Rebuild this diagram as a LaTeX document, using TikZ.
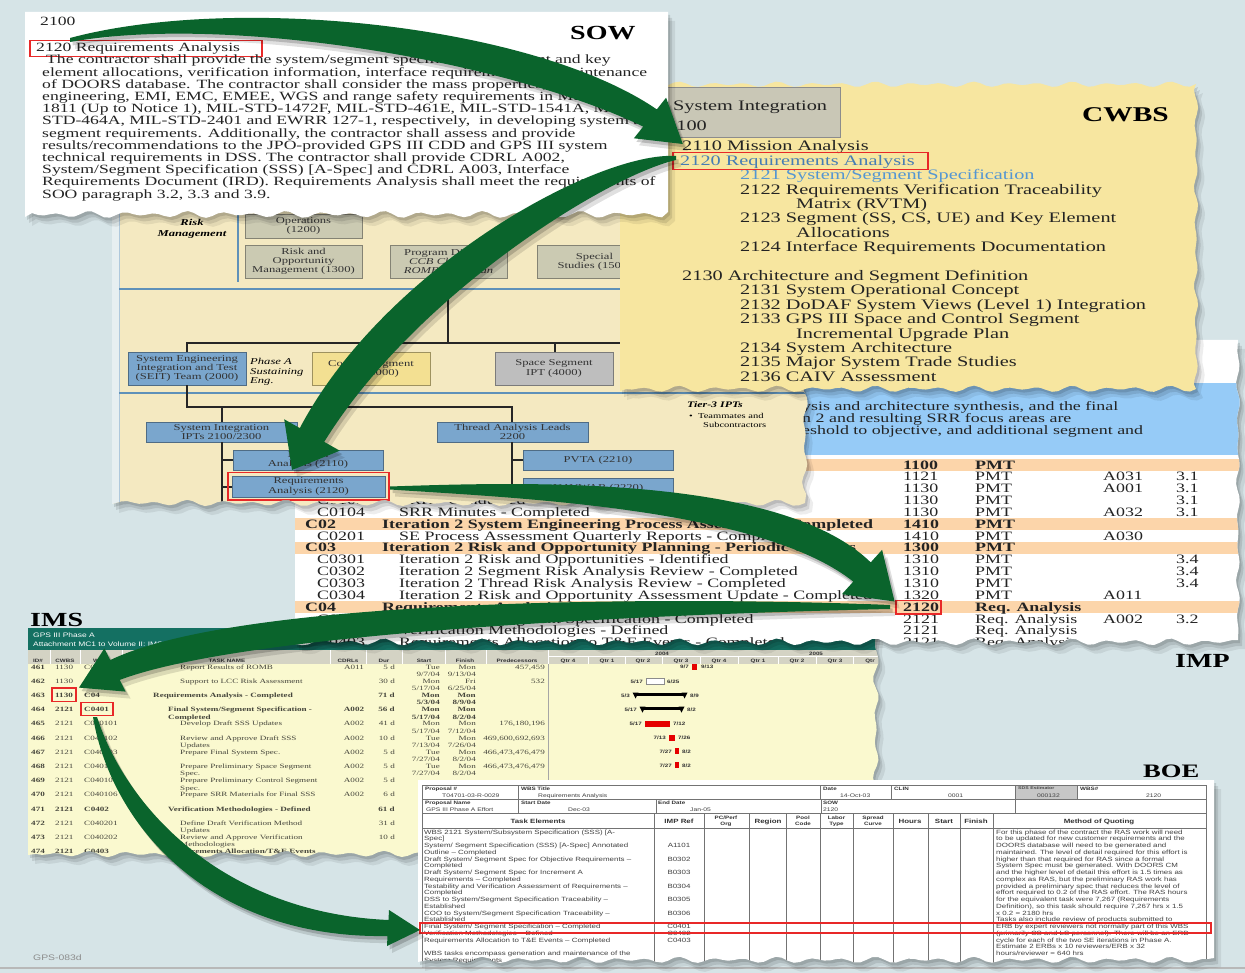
\documentclass[tikz,border=0pt]{standalone}
\usepackage{fontspec}
\setmainfont{Liberation Serif}[FakeStretch=1.4]
\newfontfamily\tinysans{Liberation Sans}[FakeStretch=1.3]
\usetikzlibrary{shadows}

\definecolor{bgblue}{RGB}{214,228,231}
\definecolor{arrowgreen}{RGB}{10,100,44}
\definecolor{orgbeige}{RGB}{244,233,193}
\definecolor{cwbsyellow}{RGB}{247,230,160}
\definecolor{impblue}{RGB}{150,203,247}
\definecolor{imporange}{RGB}{252,213,170}
\definecolor{imsyellow}{RGB}{250,249,207}
\definecolor{imsteal}{RGB}{20,112,98}
\definecolor{imshead}{RGB}{212,211,196}
\definecolor{boxblue}{RGB}{122,166,205}
\definecolor{boxtan}{RGB}{203,202,178}
\definecolor{boxgrey}{RGB}{190,190,190}
\definecolor{boxyellow}{RGB}{243,224,146}
\definecolor{orgline}{RGB}{95,145,185}
\definecolor{wbsblue}{RGB}{70,125,180}
\definecolor{wbslight}{RGB}{85,150,210}
\definecolor{markred}{RGB}{232,40,40}
\definecolor{sysgrey}{RGB}{201,199,182}
\definecolor{inkgrey}{RGB}{35,35,35}
\definecolor{tinyink}{RGB}{70,70,60}

\tikzset{
  txt/.style={inner sep=0pt,anchor=base west},
  txtr/.style={inner sep=0pt,anchor=base east},
  txtc/.style={inner sep=0pt,anchor=base},
  redmark/.style={draw=markred,line width=1.3pt},
  orgbox/.style={draw=#1!65!black,fill=#1,line width=0.5pt,inner sep=0pt,align=center,
    font=\fontsize{9}{9.2}\selectfont,text=black!80,
    drop shadow={shadow xshift=1.3pt,shadow yshift=-1.3pt,opacity=.35}},
  orgrule/.style={draw=orgline,line width=1.6pt},
  orgwire/.style={draw=black!85,line width=1.2pt},
  sowfont/.style={font=\fontsize{12.6}{12}\selectfont,text=inkgrey},
  wbsfont/.style={font=\fontsize{14.5}{14}\selectfont,text=inkgrey},
  impfont/.style={font=\fontsize{12.8}{12}\selectfont,text=inkgrey},
  imsfont/.style={font=\fontsize{6.5}{6.5}\selectfont,text=tinyink},
  boefont/.style={font=\tinysans\fontsize{6.1}{6.1}\selectfont,text=black!75},
  boebold/.style={font=\tinysans\bfseries\fontsize{6.1}{6.1}\selectfont,text=black!80},
  boecell/.style={font=\tinysans\bfseries\fontsize{4.8}{4.8}\selectfont,text=black!80},
  boeval/.style={font=\tinysans\fontsize{5.2}{5.2}\selectfont,text=black!75},
  gantt/.style={font=\tinysans\bfseries\fontsize{4.8}{4.8}\selectfont,text=black!80},
  boegrid/.style={draw=black!55,line width=0.55pt},
  arrowfill/.style={fill=arrowgreen},
}

% torn-paper outlines of the five documents
\newcommand\sowshape[1]{\path[#1] (25,12) -- (668,12) -- (668,212)
  \foreach \x in {662,656,...,30} {-- (\x,{214.5+2.2*sin(11*\x)+1.4*sin(7.3*\x)})}
  -- (25,217) -- cycle;}
\newcommand\cwbsshape[1]{\path[#1] (620,86)
  \foreach \x in {626,632,...,1190} {-- (\x,{84.5+1.8*sin(11*\x)+1.1*sin(7.3*\x)})}
  -- (1196,84)
  \foreach \y in {90,96,...,384} {-- ({1196+1.4*sin(11*\y)+0.8*sin(7.3*\y)},\y)}
  -- (1196,389)
  \foreach \x in {1190,1184,...,626} {-- (\x,{389+2*sin(11*\x)+1.4*sin(7.3*\x)})}
  -- (620,391) -- cycle;}
\newcommand\orgshape[1]{\path[#1] (112,200) -- (805,200)
  \foreach \y in {206,212,...,498} {-- ({805+1.8*sin(11*\y)+1.2*sin(7.3*\y)},\y)}
  -- (805,503)
  \foreach \x in {799,793,...,118} {-- (\x,{503+2*sin(11*\x)+1.3*sin(7.3*\x)})}
  -- (112,504) -- cycle;}
\newcommand\impshape[1]{\path[#1] (295,340) -- (1238,340)
  \foreach \y in {346,352,...,636} {-- ({1238+1.2*sin(11*\y)+0.8*sin(7.3*\y)},\y)}
  -- (1238,640)
  \foreach \x in {1232,1226,...,300} {-- (\x,{642+2.2*sin(11*\x)+1.4*sin(7.3*\x)})}
  -- (295,644) -- cycle;}
\newcommand\imsshape[1]{\path[#1] (28,628) -- (876,628)
  \foreach \y in {634,640,...,850} {-- ({876+1.8*sin(11*\y)+1.2*sin(7.3*\y)},\y)}
  -- (876,854)
  \foreach \x in {870,864,...,34} {-- (\x,{854+2*sin(11*\x)+1.3*sin(7.3*\x)})}
  -- (28,855) -- cycle;}
\newcommand\boeshape[1]{\path[#1] (418,780) -- (1214,780) -- (1214,958)
  \foreach \x in {1208,1202,...,424} {-- (\x,{960+2*sin(11*\x)+1.3*sin(7.3*\x)})}
  -- (418,962) -- cycle;}
\newcommand\docshadow[1]{%
  #1{fill=black,opacity=.07,shift={(7,9)}}%
  #1{fill=black,opacity=.10,shift={(4,6)}}%
  #1{fill=black,opacity=.12,shift={(2,3)}}}

% tapered green arrows
\newcommand\arrowsow[1]{\path[#1] (70,38) .. controls (234,-6) and (532,24) .. (656.8,109.4)
  -- (666.1,97.7) -- (cwbsmark) -- (633.9,138.3) -- (643.2,126.6)
  .. controls (505,60) and (226,14) .. (70,42) -- cycle;}
\newcommand\arrowcwbs[1]{\path[#1] (676,156) .. controls (598,151) and (385,267) .. (299.8,428.1)
  -- (284.2,419.3) -- (orgmark) -- (339.8,450.7) -- (324.2,441.9)
  .. controls (415,295) and (606,176) .. (676,160) -- cycle;}
\newcommand\arroworg[1]{\path[#1] (390,486.5) .. controls (522,482) and (780,474) .. (870.7,562.4)
  -- (882.1,549.8) -- (impmark) -- (841.9,594.2) -- (853.3,581.6)
  .. controls (760,508) and (518,498) .. (390,489.5) -- cycle;}
\newcommand\arrowimp[1]{\path[#1] (890,605) .. controls (700,597) and (245,595) .. (110.2,660.1)
  -- (104.4,648.4) -- (imsmark) -- (125.6,691.6) -- (119.8,679.9)
  .. controls (255,629) and (700,613) .. (890,609) -- cycle;}
\newcommand\arrowims[1]{\path[#1] (93,717) .. controls (112,828) and (212,939) .. (387.5,936)
  -- (387,946) -- (boemark) -- (389,910) -- (388.5,920)
  .. controls (227,913) and (128,812) .. (97,717) -- cycle;}

% one schedule row, left and right halves
\def\imsfw{}
\newcommand\imsrowA[7]{%
  \pgfmathsetmacro\imsya{669+14.2*#1}%
  \pgfmathsetmacro\imsyb{\imsya+7.4}%
  \node[txt,imsfont] (imsid#1) at (31,\imsya) {\bfseries #2};
  \node[txt,imsfont] (imscw#1) at (55,\imsya) {\imsfw #3};
  \node[txt,imsfont] (imswp#1) at (84,\imsya) {\imsfw #4};
  \node[txt,imsfont] (imstka#1) at (#5,\imsya) {\imsfw #6};
  \node[txt,imsfont] (imstkb#1) at (#5,\imsyb) {\imsfw #7};}
\newcommand\imsrowB[8]{%
  \pgfmathsetmacro\imsya{669+14.2*#1}%
  \pgfmathsetmacro\imsyb{\imsya+7.4}%
  \node[txtc,imsfont] (imscd#1) at (354,\imsya) {\imsfw #2};
  \node[txtr,imsfont] (imsdu#1) at (395,\imsya) {\imsfw #3};
  \node[txtr,imsfont] (imssa#1) at (440,\imsya) {\imsfw #4};
  \node[txtr,imsfont] (imssb#1) at (440,\imsyb) {\imsfw #5};
  \node[txtr,imsfont] (imsfa#1) at (476,\imsya) {\imsfw #6};
  \node[txtr,imsfont] (imsfb#1) at (476,\imsyb) {\imsfw #7};
  \node[txtr,imsfont] (imspr#1) at (545,\imsya) {#8};}
% rows whose right half lies under the estimate sheet
\newcommand\imsrowC[3]{%
  \pgfmathsetmacro\imsya{669+14.2*#1}%
  \node[txtc,imsfont] (imscd#1) at (354,\imsya) {\imsfw #2};
  \node[txtr,imsfont] (imsdu#1) at (395,\imsya) {\imsfw #3};}

\begin{document}
\begin{tikzpicture}[x=1pt,y=-1pt]
\useasboundingbox (0,0) rectangle (1245,973);
\fill[bgblue] (0,0) rectangle (1245,973);
\draw[black!28,line width=1.6pt] (0,968) -- (1245,968);
\node[txt,font=\tinysans\fontsize{8}{8}\selectfont,text=black!45] (drawno) at (33,960) {GPS-083d};

% ---------------- IMS ----------------
\docshadow\imsshape
\imsshape{fill=imsyellow}
\begin{scope}
\imsshape{clip}
\fill[imsteal] (28,628) rectangle (880,650);
\node[txt,font=\tinysans\fontsize{6.5}{6.5}\selectfont,text=white] (imsbar1) at (33,637) {GPS III Phase A};
\node[txt,font=\tinysans\fontsize{6.5}{6.5}\selectfont,text=white] (imsbar2) at (33,646.5) {Attachment MC1 to Volume II:  IMS};
\fill[imshead] (28,650) rectangle (880,664);
\foreach \xx in {50,80,122,330,366,402,445,486,548} \draw[white,line width=0.6pt] (\xx,650) -- (\xx,664);
\draw[white,line width=0.6pt] (548,656.5) -- (880,656.5);
\foreach \xx in {588,625,662,700,738,778,816,853} \draw[white,line width=0.6pt] (\xx,656.5) -- (\xx,664);
\node[txtc,gantt] (yr2004) at (662,655) {2004};
\node[txtc,gantt] (yr2005) at (816,655) {2005};
\foreach \xx/\t [count=\i] in {38/ID\#,65/CWBS,100/WP\#,227/TASK NAME,348/CDRLs,384/Dur,424/Start,465/Finish,517/Predecessors,568/Qtr 4,607/Qtr 1,643/Qtr 2,681/Qtr 3,719/Qtr 4,758/Qtr 1,797/Qtr 2,835/Qtr 3,870/Qtr}
  \node[txtc,gantt] (imscol\i) at (\xx,662.5) {\t};
\draw[black!35,line width=0.6pt] (548,664) -- (548,858);

\imsrowA{0}{461}{1130}{C0105}{180}{Report Results of ROMB}{}
\imsrowB{0}{A011}{5 d}{Tue}{9/7/04}{Mon}{9/13/04}{457,459}
\imsrowA{1}{462}{1130}{}{180}{Support to LCC Risk Assessment}{}
\imsrowB{1}{}{30 d}{Mon}{5/17/04}{Fri}{6/25/04}{532}
\def\imsfw{\bfseries}
\imsrowA{2}{463}{1130}{C04}{153}{Requirements Analysis - Completed}{}
\imsrowB{2}{}{71 d}{Mon}{5/3/04}{Mon}{8/9/04}{}
\imsrowA{3}{464}{2121}{C0401}{168}{Final System/Segment Specification -}{Completed}
\imsrowB{3}{A002}{56 d}{Mon}{5/17/04}{Mon}{8/2/04}{}
\def\imsfw{}
\imsrowA{4}{465}{2121}{C040101}{180}{Develop Draft SSS Updates}{}
\imsrowB{4}{A002}{41 d}{Mon}{5/17/04}{Mon}{7/12/04}{176,180,196}
\imsrowA{5}{466}{2121}{C040102}{180}{Review and Approve Draft SSS}{Updates}
\imsrowB{5}{A002}{10 d}{Tue}{7/13/04}{Mon}{7/26/04}{469,600,692,693}
\imsrowA{6}{467}{2121}{C040103}{180}{Prepare Final System Spec.}{}
\imsrowB{6}{A002}{5 d}{Tue}{7/27/04}{Mon}{8/2/04}{466,473,476,479}
\imsrowA{7}{468}{2121}{C040104}{180}{Prepare Preliminary Space Segment}{Spec.}
\imsrowB{7}{A002}{5 d}{Tue}{7/27/04}{Mon}{8/2/04}{466,473,476,479}
\imsrowA{8}{469}{2121}{C040105}{180}{Prepare Preliminary Control Segment}{Spec.}
\imsrowC{8}{A002}{5 d}
\imsrowA{9}{470}{2121}{C040106}{180}{Prepare SRR Materials for Final SSS}{}
\imsrowC{9}{A002}{6 d}
\def\imsfw{\bfseries}
\imsrowA{10}{471}{2121}{C0402}{168}{Verification Methodologies - Defined}{}
\imsrowC{10}{}{61 d}
\def\imsfw{}
\imsrowA{11}{472}{2121}{C040201}{180}{Define Draft Verification Method}{Updates}
\imsrowC{11}{}{31 d}
\imsrowA{12}{473}{2121}{C040202}{180}{Review and Approve Verification}{Methodologies}
\imsrowC{12}{}{10 d}
\def\imsfw{\bfseries}
\imsrowA{13}{474}{2121}{C0403}{168}{Requirements Allocation/T\&E Events}{}
\def\imsfw{}

% Gantt bars
\fill[red!90!black] (692,664) rectangle (697,669.5);
\node[txtr,gantt] (g0a) at (689,668.5) {9/7};
\node[txt,gantt] (g0b) at (701,668.5) {9/13};
\draw[black!45,fill=white,line width=0.5pt] (646,678.5) rectangle (664,684);
\node[txtr,gantt] (g1a) at (643,683) {5/17};
\node[txt,gantt] (g1b) at (667,683) {6/25};
\fill[black] (635,692.5) rectangle (685,695.5);
\fill[black] (632.5,692.5) -- (638.5,692.5) -- (635.5,698.5) -- cycle;
\fill[black] (681.5,692.5) -- (687.5,692.5) -- (684.5,698.5) -- cycle;
\node[txtr,gantt] (g2a) at (630,697) {5/3};
\node[txt,gantt] (g2b) at (690,697) {8/9};
\fill[black] (642,706.7) rectangle (682,709.7);
\fill[black] (639.5,706.7) -- (645.5,706.7) -- (642.5,712.7) -- cycle;
\fill[black] (678.5,706.7) -- (684.5,706.7) -- (681.5,712.7) -- cycle;
\node[txtr,gantt] (g3a) at (637,711) {5/17};
\node[txt,gantt] (g3b) at (687,711) {8/2};
\fill[red!90!black] (645,720.5) rectangle (670,726.5);
\node[txtr,gantt] (g4a) at (642,725.5) {5/17};
\node[txt,gantt] (g4b) at (673,725.5) {7/12};
\fill[red!90!black] (669,734.5) rectangle (675,740.5);
\node[txtr,gantt] (g5a) at (666,739.5) {7/13};
\node[txt,gantt] (g5b) at (678,739.5) {7/26};
\foreach \k in {6,7} {
  \pgfmathsetmacro\gy{666+14.2*\k}
  \fill[red!90!black] (675,\gy-3) rectangle (678.5,\gy+3);
  \node[txtr,gantt] (g\k a) at (672,\gy+2) {7/27};
  \node[txt,gantt] (g\k b) at (682,\gy+2) {8/2};
}
\draw[redmark] (52,688) rectangle (76,701.5);
\draw[redmark] (81,702.5) rectangle (113,715.5);
\end{scope}

% ---------------- IMP ----------------
\docshadow\impshape
\impshape{fill=white}
\begin{scope}
\impshape{clip}
\fill[impblue] (295,383) rectangle (1242,455);
\node[txt,impfont] (impblue1) at (802,410) {ysis and architecture synthesis, and the final};
\node[txt,impfont] (impblue2) at (802,422.5) {n 2 and resulting SRR focus areas are};
\node[txt,impfont] (impblue3) at (802,435) {eshold to objective, and additional segment and};
\foreach \j in {0,5,7,12} \fill[imporange] (295,{459+11.85*\j}) rectangle (1242,{471+11.85*\j});
\foreach \j/\cx/\cd/\tx/\tk/\wbs/\org/\cdrl/\para/\fw in {
  0/305/{}/382/{}/1100/PMT/{}/{}/\bfseries,
  1/317/{}/399/{}/1121/PMT/A031/3.1/\mdseries,
  2/317/{}/399/{}/1130/PMT/A001/3.1/\mdseries,
  3/317/C0103/399/{SRR - Conducted}/1130/PMT/{}/3.1/\mdseries,
  4/317/C0104/399/{SRR Minutes - Completed}/1130/PMT/A032/3.1/\mdseries,
  5/305/C02/382/{Iteration 2 System Engineering Process Assessment - Completed}/1410/PMT/{}/{}/\bfseries,
  6/317/C0201/399/{SE Process Assessment Quarterly Reports - Completed}/1410/PMT/A030/{}/\mdseries,
  7/305/C03/382/{Iteration 2 Risk and Opportunity Planning - Periodic Updates}/1300/PMT/{}/{}/\bfseries,
  8/317/C0301/399/{Iteration 2 Risk and Opportunities - Identified}/1310/PMT/{}/3.4/\mdseries,
  9/317/C0302/399/{Iteration 2 Segment Risk Analysis Review - Completed}/1310/PMT/{}/3.4/\mdseries,
  10/317/C0303/399/{Iteration 2 Thread Risk Analysis Review - Completed}/1310/PMT/{}/3.4/\mdseries,
  11/317/C0304/399/{Iteration 2 Risk and Opportunity Assessment Update - Completed}/1320/PMT/A011/{}/\mdseries,
  12/305/C04/382/{Requirements Analysis - Completed}/2120/{Req. Analysis}/{}/{}/\bfseries,
  13/317/C0401/399/{Final System/Segment Specification - Completed}/2121/{Req. Analysis}/A002/3.2/\mdseries,
  14/317/C0402/399/{Verification Methodologies - Defined}/2121/{Req. Analysis}/{}/{}/\mdseries,
  15/317/C0403/399/{Requirements Allocation to T\&E Events - Completed}/2121/{Req. Analysis}/{}/{}/\mdseries}
{
  \pgfmathsetmacro\yy{469+11.85*\j}
  \node[txt,impfont] (impc\j) at (\cx,\yy) {\fw\cd};
  \begin{scope}
    \clip (295,440) rectangle (893,660);
    \node[txt,impfont] (impt\j) at (\tx,\yy) {\fw\tk};
  \end{scope}
  \node[txt,impfont] (impw\j) at (903,\yy) {\fw\wbs};
  \node[txt,impfont] (impo\j) at (975,\yy) {\fw\org};
  \node[txt,impfont] (impd\j) at (1103,\yy) {\cdrl};
  \node[txt,impfont] (impp\j) at (1176,\yy) {\para};
}
\draw[redmark] (896,600.5) rectangle (941,614);
\end{scope}

% ---------------- organisation chart ----------------
\docshadow\orgshape
\orgshape{fill=orgbeige}
\begin{scope}
\orgshape{clip}
\fill[bgblue!60!white] (112,200) rectangle (119,506);
\draw[orgline!50,line width=0.8pt] (119,200) -- (119,506);
\node[txtc,font=\bfseries\itshape\fontsize{9}{9}\selectfont] (riskhead) at (192,226) {Risk};
\node[txtc,font=\bfseries\itshape\fontsize{9}{9}\selectfont] (riskmgmt) at (192,237) {Management};
\draw[orgrule] (238,200) -- (238,282);
\node[orgbox=boxtan,minimum width=117pt,minimum height=24pt] (ops) at (303.5,226) {Operations\\(1200)};
\node[orgbox=boxtan,minimum width=117pt,minimum height=33pt] (rom) at (303.5,261.5) {Risk and\\Opportunity\\Management (1300)};
\node[orgbox=boxtan,minimum width=117pt,minimum height=33pt] (pd) at (448.5,261.5) {Program Director\\\textit{CCB Chairman}\\\textit{ROMB Chairman}};
\node[orgbox=boxtan,minimum width=115pt,minimum height=33pt] (ss) at (594.5,261.5) {Special\\Studies (1500)};
\draw[orgrule] (119,289) -- (805,289);
\draw[orgwire] (448,283) -- (448,343);
\draw[orgwire] (187,352) -- (187,343) -- (660,343);
\draw[orgwire] (555,343) -- (555,352);
\node[orgbox=boxblue,minimum width=118pt,minimum height=33pt] (seit) at (187,368.5) {System Engineering\\Integration and Test\\(SEIT) Team (2000)};
\node[txt,font=\itshape\fontsize{9}{9}\selectfont] (phasea) at (250,365) {Phase A};
\node[txt,font=\itshape\fontsize{9}{9}\selectfont] (sustain) at (250,374.5) {Sustaining};
\node[txt,font=\itshape\fontsize{9}{9}\selectfont] (eng) at (250,384) {Eng.};
\node[orgbox=boxyellow,minimum width=118pt,minimum height=33pt] (cs) at (371,368.5) {Control Segment\\IPT (3000)};
\node[orgbox=boxgrey,minimum width=118pt,minimum height=33pt] (sp) at (554,368.5) {Space Segment\\IPT (4000)};
\draw[orgrule] (119,393) -- (805,393);
\draw[orgwire] (seit.south) -- (187,407) -- (512,407) -- (512,422);
\draw[orgwire] (222,407) -- (222,422);
\node[orgbox=boxblue,minimum width=151pt,minimum height=20pt] (si) at (221.5,432) {System Integration\\IPTs 2100/2300};
\node[orgbox=boxblue,minimum width=151pt,minimum height=20pt] (ta) at (512.5,432) {Thread Analysis Leads\\2200};
\draw[orgwire] (222,442) -- (222,506);
\draw[orgwire] (222,460) -- (233,460);
\draw[orgwire] (222,487) -- (232,487);
\draw[orgwire] (512,442) -- (512,495);
\draw[orgwire] (512,460) -- (523,460);
\draw[orgwire] (512,488) -- (523,488);
\node[orgbox=boxblue,minimum width=150pt,minimum height=20pt] (ma) at (308,460) {Mission\\Analysis (2110)};
\node[orgbox=boxblue,minimum width=153pt,minimum height=21pt] (ra) at (308.5,486.5) {Requirements\\Analysis (2120)};
\node[orgbox=boxblue,minimum width=150pt,minimum height=20pt] (pv) at (598,460) {PVTA (2210)};
\node[orgbox=boxblue,minimum width=150pt,minimum height=20pt] (nw) at (598,488) {NAVWAR (2220)};
\draw[redmark] (228,472.5) rectangle (389,500);
\node[txt,font=\bfseries\itshape\fontsize{8.5}{8.5}\selectfont] (tier3) at (687,408) {Tier-3 IPTs};
\node[txt,font=\fontsize{7.5}{7.5}\selectfont] (tier3a) at (689,418) {•\ \ Teammates and};
\node[txt,font=\fontsize{7.5}{7.5}\selectfont] (tier3b) at (703,428) {Subcontractors};
\end{scope}

% ---------------- CWBS ----------------
\docshadow\cwbsshape
\cwbsshape{fill=cwbsyellow}
\draw[fill=sysgrey,draw=black!45,line width=0.8pt] (655,87) rectangle (840,137);
\node[txt,wbsfont] (sysint) at (673,111) {System Integration};
\node[txt,wbsfont] (cw2100) at (666,131) {2100};
\node[txt,font=\bfseries\fontsize{21}{21}\selectfont] (cwbstitle) at (1082,122) {CWBS};
\foreach \xx/\yy/\t/\c [count=\i] in {
  682/151/{2110 Mission Analysis}/inkgrey,
  680/165.4/{2120 Requirements Analysis}/wbsblue,
  740/179.8/{2121 System/Segment Specification}/wbslight,
  740/194.2/{2122 Requirements Verification Traceability}/inkgrey,
  796/208.6/{Matrix (RVTM)}/inkgrey,
  740/223/{2123 Segment (SS, CS, UE) and Key Element}/inkgrey,
  796/237.4/{Allocations}/inkgrey,
  740/251.8/{2124 Interface Requirements Documentation}/inkgrey,
  682/280.6/{2130 Architecture and Segment Definition}/inkgrey,
  740/295/{2131 System Operational Concept}/inkgrey,
  740/309.4/{2132 DoDAF System Views (Level 1) Integration}/inkgrey,
  740/323.8/{2133 GPS III Space and Control Segment}/inkgrey,
  796/338.2/{Incremental Upgrade Plan}/inkgrey,
  740/352.6/{2134 System Architecture}/inkgrey,
  740/367/{2135 Major System Trade Studies}/inkgrey,
  740/381.4/{2136 CAIV Assessment}/inkgrey}
  \node[txt,wbsfont,text=\c] (cwline\i) at (\xx,\yy) {\t};
\draw[redmark] (673,152.5) rectangle (928,169.5);

% ---------------- SOW ----------------
\docshadow\sowshape
\sowshape{fill=white}
\node[txt,sowfont] (sow2100) at (40,26) {2100};
\node[txt,font=\bfseries\fontsize{20}{20}\selectfont] (sowtitle) at (570,40) {SOW};
\node[txt,sowfont] (sowhead) at (36,51.5) {2120 Requirements Analysis};
\draw[redmark] (30,40.5) rectangle (262,56.5);
\foreach \t [count=\i from 0] in {
  {\hspace*{4pt}The contractor shall provide the system/segment specification, segment and key},
  {element allocations, verification information, interface requirements and maintenance},
  {of DOORS database. The contractor shall consider the mass properties, human},
  {engineering, EMI, EMC, EMEE, WGS and range safety requirements in MIL-STD-},
  {1811 (Up to Notice 1), MIL-STD-1472F, MIL-STD-461E, MIL-STD-1541A, MIL-},
  {STD-464A, MIL-STD-2401 and EWRR 127-1, respectively,\ \ in developing system and},
  {segment requirements. Additionally, the contractor shall assess and provide},
  {results/recommendations to the JPO-provided GPS III CDD and GPS III system},
  {technical requirements in DSS. The contractor shall provide CDRL A002,},
  {System/Segment Specification (SSS) [A-Spec] and CDRL A003, Interface},
  {Requirements Document (IRD). Requirements Analysis shall meet the requirements of},
  {SOO paragraph 3.2, 3.3 and 3.9.}}
  \node[txt,sowfont] (sowline\i) at (42,{64+12.2*\i}) {\t};

% ---------------- BOE ----------------
\docshadow\boeshape
\boeshape{fill=white}
\begin{scope}
\boeshape{clip}
\fill[black!22] (1015,785) rectangle (1077,799);
\draw[boegrid] (422,785) rectangle (1206,970);
\foreach \yy in {799,813,828} \draw[boegrid] (422,\yy) -- (1206,\yy);
\foreach \xx in {518,820,891,1015,1077} \draw[boegrid] (\xx,785) -- (\xx,799);
\foreach \xx in {518,656,821,1015} \draw[boegrid] (\xx,799) -- (\xx,813);
\foreach \xx in {654,704,749,786,820,853,893,928,960,993} \draw[boegrid] (\xx,813) -- (\xx,970);
% header block
\node[txt,boecell] (bpl) at (425,790) {Proposal \#};
\node[txt,boeval] (bpv) at (442,797) {T04701-03-R-0029};
\node[txt,boecell] (bwl) at (521,790) {WBS Title};
\node[txt,boeval] (bwv) at (538,797) {Requirements Analysis};
\node[txt,boecell] (bdl) at (823,790) {Date};
\node[txt,boeval] (bdv) at (840,797) {14-Oct-03};
\node[txt,boecell] (bcl) at (894,790) {CLIN};
\node[txt,boeval] (bcv) at (948,797) {0001};
\node[txt,font=\tinysans\bfseries\fontsize{4}{4}\selectfont,text=black!70] (bel) at (1018,789.5) {SDS Estimator};
\node[txt,boeval] (bev) at (1037,797) {000132};
\node[txt,boecell] (bnl) at (1080,790) {WBS\#};
\node[txt,boeval] (bnv) at (1146,797) {2120};
\node[txt,boecell] (bnm) at (425,804) {Proposal Name};
\node[txt,boeval] (bnmv) at (426,811) {GPS III Phase A Effort};
\node[txt,boecell] (bsd) at (521,804) {Start Date};
\node[txt,boeval] (bsdv) at (568,811) {Dec-03};
\node[txt,boecell] (bed) at (658,804) {End Date};
\node[txt,boeval] (bedv) at (690,811) {Jan-05};
\node[txt,boecell] (bsow) at (823,804) {SOW};
\node[txt,boeval] (bsowv) at (823,811) {2120};
\node[txtc,boebold] (hte) at (538,823) {Task Elements};
\node[txtc,boebold] (hir) at (679,823) {IMP Ref};
\node[txtc,boecell] (hpc) at (726,819) {PC/Perf};
\node[txtc,boecell] (hpc2) at (726,825.5) {Org};
\node[txtc,boebold] (hrg) at (768,823) {Region};
\node[txtc,boecell] (hpo) at (803,819) {Pool};
\node[txtc,boecell] (hpo2) at (803,825.5) {Code};
\node[txtc,boecell] (hlt) at (836.5,819) {Labor};
\node[txtc,boecell] (hlt2) at (836.5,825.5) {Type};
\node[txtc,boecell] (hsc) at (873,819) {Spread};
\node[txtc,boecell] (hsc2) at (873,825.5) {Curve};
\node[txtc,boebold] (hhr) at (910,823) {Hours};
\node[txtc,boebold] (hst) at (944,823) {Start};
\node[txtc,boebold] (hfi) at (976,823) {Finish};
\node[txtc,boebold] (hmq) at (1099,823) {Method of Quoting};
% task elements with IMP references
\foreach \t/\r [count=\i from 0] in {
  {WBS 2121   System/Subsystem Specification (SSS) [A-}/{},
  {Spec]}/{},
  {System/ Segment Specification (SSS) [A-Spec] Annotated}/A1101,
  {Outline – Completed}/{},
  {Draft System/ Segment Spec for Objective Requirements –}/B0302,
  {Completed}/{},
  {Draft System/ Segment Spec for Increment A}/B0303,
  {Requirements – Completed}/{},
  {Testability and Verification Assessment of Requirements –}/B0304,
  {Completed}/{},
  {DSS to System/Segment Specification Traceability –}/B0305,
  {Established}/{},
  {COO to System/Segment Specification Traceability –}/B0306,
  {Established}/{},
  {Final System/ Segment Specification – Completed}/C0401,
  {Verification Methodologies – Defined}/C0402,
  {Requirements Allocation to T\&E Events – Completed}/C0403,
  {}/{},
  {WBS tasks encompass generation and maintenance of the}/{},
  {System Requirements}/{}}
{
  \node[txt,boefont] (bte\i) at (424,{834+6.75*\i}) {\t};
  \node[txtc,boefont] (bir\i) at (679,{834+6.75*\i}) {\r};
}
% method of quoting
\foreach \t [count=\i from 0] in {
  {For this phase of the contract the RAS work will need},
  {to be updated for new customer requirements and the},
  {DOORS database will need to be generated and},
  {maintained.  The level of detail required for this effort is},
  {higher than that required for RAS since a formal},
  {System Spec must be generated.  With DOORS CM},
  {and the higher level of detail this effort is 1.5 times as},
  {complex as RAS, but the preliminary RAS work has},
  {provided a preliminary spec that reduces the level of},
  {effort required to 0.2 of the RAS effort.  The RAS hours},
  {for the equivalent task were 7,267 (Requirements},
  {Definition), so this task should require 7,267 hrs  x  1.5},
  {x  0.2 = 2180 hrs},
  {Tasks also include review of products submitted to},
  {ERB by expert reviewers not normally part of this WBS},
  {(primarily CS and LS personnel).  There will be an ERB},
  {cycle for each of the two SE iterations in Phase A.},
  {Estimate 2 ERBs  x  10 reviewers/ERB  x  32},
  {hours/reviewer = 640 hrs}}
  \node[txt,boefont] (bmq\i) at (996,{834+6.75*\i}) {\t};
\draw[redmark] (420,923) rectangle (1211,933);
\end{scope}

% ---------------- document labels ----------------
\node[txt,font=\bfseries\fontsize{20}{20}\selectfont] (imslabel) at (30,626) {IMS};
\node[txt,font=\bfseries\fontsize{20}{20}\selectfont] (implabel) at (1175,667) {IMP};
\node[txt,font=\bfseries\fontsize{19}{19}\selectfont] (boelabel) at (1143,777) {BOE};

% ---------------- traceability arrows ----------------
\coordinate (cwbsmark) at (682.8,144);
\coordinate (orgmark) at (292,470);
\coordinate (impmark) at (894.6,601.5);
\coordinate (imsmark) at (79,687.6);
\coordinate (boemark) at (420,930);
\begin{scope}[transform canvas={shift={(5,7)}}]
  \arrowsow{fill=black,opacity=.12}
  \arrowcwbs{fill=black,opacity=.12}
  \arroworg{fill=black,opacity=.12}
  \arrowimp{fill=black,opacity=.12}
  \arrowims{fill=black,opacity=.12}
\end{scope}
\begin{scope}[transform canvas={shift={(2.5,3.5)}}]
  \arrowsow{fill=black,opacity=.18}
  \arrowcwbs{fill=black,opacity=.18}
  \arroworg{fill=black,opacity=.18}
  \arrowimp{fill=black,opacity=.18}
  \arrowims{fill=black,opacity=.18}
\end{scope}
\arrowsow{arrowfill}
\arrowcwbs{arrowfill}
\arroworg{arrowfill}
\arrowimp{arrowfill}
\arrowims{arrowfill}
\end{tikzpicture}
\end{document}
